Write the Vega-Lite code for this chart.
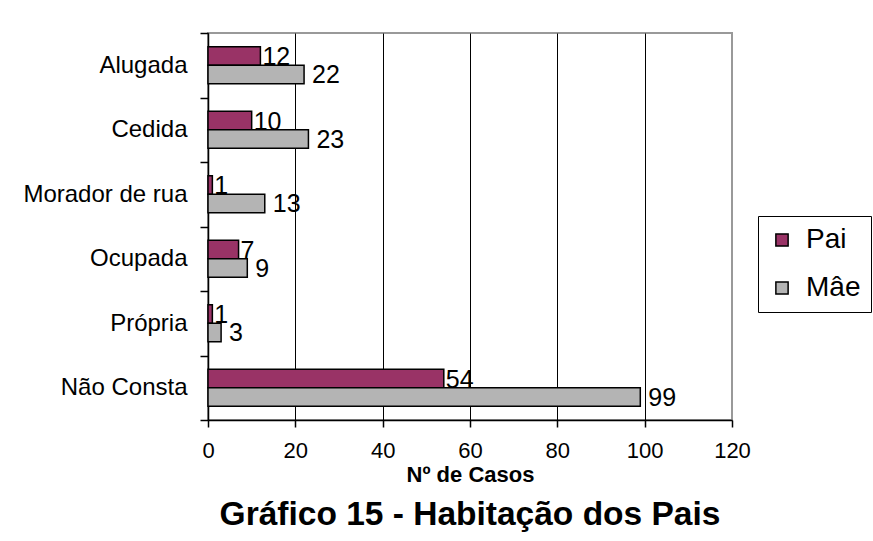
{
  "$schema": "https://vega.github.io/schema/vega-lite/v6.json",
  "width": 524,
  "height": 387,
  "autosize": {"type": "none"},
  "padding": {"left": 208, "top": 33, "right": 141, "bottom": 121},
  "background": "white",
  "config": {
    "font": "Liberation Sans",
    "view": {"stroke": "#999999", "strokeWidth": 2}
  },
  "title": {
    "text": "Gráfico 15 - Habitação dos Pais",
    "orient": "bottom",
    "anchor": "middle",
    "fontSize": 33.5,
    "fontWeight": "bold",
    "font": "Liberation Sans",
    "color": "#000000",
    "offset": 14
  },
  "data": {
    "values": [
      {"tipo": "Alugada", "serie": "Pai", "casos": 12},
      {"tipo": "Alugada", "serie": "Mâe", "casos": 22},
      {"tipo": "Cedida", "serie": "Pai", "casos": 10},
      {"tipo": "Cedida", "serie": "Mâe", "casos": 23},
      {"tipo": "Morador de rua", "serie": "Pai", "casos": 1},
      {"tipo": "Morador de rua", "serie": "Mâe", "casos": 13},
      {"tipo": "Ocupada", "serie": "Pai", "casos": 7},
      {"tipo": "Ocupada", "serie": "Mâe", "casos": 9},
      {"tipo": "Própria", "serie": "Pai", "casos": 1},
      {"tipo": "Própria", "serie": "Mâe", "casos": 3},
      {"tipo": "Não Consta", "serie": "Pai", "casos": 54},
      {"tipo": "Não Consta", "serie": "Mâe", "casos": 99}
    ]
  },
  "encoding": {
    "y": {
      "field": "tipo",
      "type": "nominal",
      "sort": ["Alugada", "Cedida", "Morador de rua", "Ocupada", "Própria", "Não Consta"],
      "scale": {"paddingInner": 0, "paddingOuter": 0},
      "axis": {
        "title": null,
        "tickBand": "extent",
        "tickSize": 8,
        "tickColor": "#000000",
        "tickWidth": 1.5,
        "domainColor": "#000000",
        "domainWidth": 1.5,
        "labelPadding": 13,
        "labelFontSize": 24,
        "labelColor": "#000000",
        "labelFont": "Liberation Sans",
        "grid": false
      }
    },
    "yOffset": {
      "field": "serie",
      "type": "nominal",
      "sort": ["Pai", "Mâe"],
      "scale": {"paddingInner": 0, "paddingOuter": 0.745}
    },
    "x": {
      "field": "casos",
      "type": "quantitative",
      "scale": {"domain": [0, 120], "nice": false},
      "axis": {
        "title": "Nº de Casos",
        "values": [0, 20, 40, 60, 80, 100, 120],
        "labelFlush": false,
        "labelOverlap": false,
        "tickSize": 7,
        "tickColor": "#000000",
        "tickWidth": 1.5,
        "domainColor": "#000000",
        "domainWidth": 1.5,
        "labelPadding": 13,
        "labelFontSize": 22,
        "labelColor": "#000000",
        "labelFont": "Liberation Sans",
        "titleFont": "Liberation Sans",
        "titleFontSize": 22,
        "titleFontWeight": "bold",
        "titleColor": "#000000",
        "titlePadding": 3,
        "grid": true,
        "gridColor": {"condition": {"test": "datum.value == 120", "value": "#999999"}, "value": "#000000"},
        "gridWidth": 1
      }
    }
  },
  "layer": [
    {
      "mark": {"type": "bar", "stroke": "#000000", "strokeWidth": 1.5},
      "encoding": {
        "color": {
          "field": "serie",
          "type": "nominal",
          "sort": ["Pai", "Mâe"],
          "scale": {"domain": ["Pai", "Mâe"], "range": ["#993366", "#b4b4b4"]},
          "legend": {
            "title": null,
            "orient": "none",
            "legendX": 550,
            "legendY": 183,
            "direction": "vertical",
            "strokeColor": "#000000",
            "fillColor": "#ffffff",
            "padding": 10,
            "labelFontSize": 28,
            "labelColor": "#000000",
            "labelFont": "Liberation Sans",
            "symbolType": "square",
            "symbolSize": 150,
            "symbolStrokeColor": "#000000",
            "symbolStrokeWidth": 1.5,
            "symbolOpacity": 1,
            "labelOffset": 10,
            "rowPadding": 20
          }
        }
      }
    },
    {
      "transform": [{"filter": "datum.serie == 'Pai'"}],
      "mark": {"type": "text", "align": "left", "baseline": "middle", "dx": 2, "dy": 1, "fontSize": 25, "font": "Liberation Sans", "color": "#000000"},
      "encoding": {"text": {"field": "casos", "type": "quantitative"}}
    },
    {
      "transform": [{"filter": "datum.serie == 'Mâe'"}],
      "mark": {"type": "text", "align": "left", "baseline": "middle", "dx": 8, "dy": 1, "fontSize": 25, "font": "Liberation Sans", "color": "#000000"},
      "encoding": {"text": {"field": "casos", "type": "quantitative"}}
    }
  ]
}
